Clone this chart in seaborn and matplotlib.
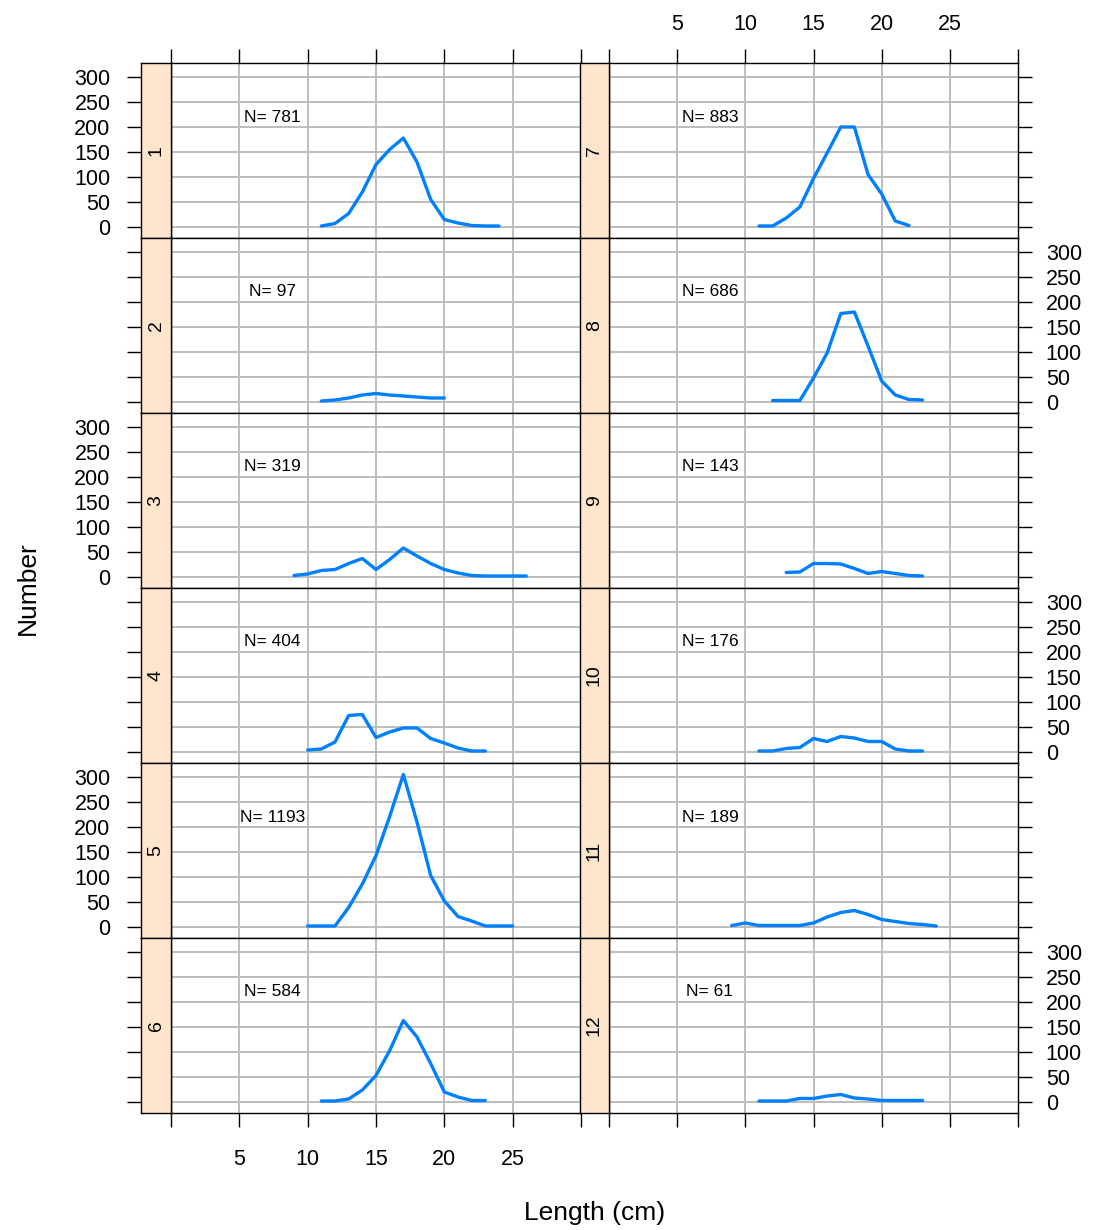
import numpy as np
import pandas as pd
import matplotlib
matplotlib.use("Agg")
import matplotlib.pyplot as plt
import seaborn as sns

# Monthly length-frequency counts (number of fish per 1 cm length class)
months = [1, 2, 3, 4, 5, 6, 7, 8, 9, 10, 11, 12]
start_len = [11, 11, 9, 10, 10, 11, 11, 12, 13, 11, 9, 11]
n_total = [781, 97, 319, 404, 1193, 584, 883, 686, 143, 176, 189, 61]

counts_01 = [2, 7, 27, 70, 125, 155, 178, 130, 55, 15, 8, 3, 2, 2]
counts_02 = [2, 4, 8, 14, 17, 14, 12, 10, 8, 8]
counts_03 = [3, 6, 13, 15, 27, 37, 15, 35, 58, 42, 27, 15, 8, 3, 2, 2, 2, 2]
counts_04 = [4, 6, 20, 73, 75, 29, 40, 48, 48, 27, 18, 8, 2, 2]
counts_05 = [2, 2, 2, 39, 86, 143, 221, 305, 210, 103, 52, 21, 12, 2, 2, 2]
counts_06 = [2, 2, 6, 24, 53, 103, 163, 130, 77, 20, 10, 3, 3]
counts_07 = [2, 2, 18, 40, 97, 148, 200, 200, 105, 66, 12, 3]
counts_08 = [3, 3, 3, 48, 98, 177, 180, 112, 42, 14, 5, 4]
counts_09 = [9, 10, 27, 27, 26, 17, 7, 11, 7, 3, 2]
counts_10 = [2, 2, 7, 9, 27, 21, 31, 28, 21, 21, 6, 2, 2]
counts_11 = [3, 8, 3, 3, 3, 3, 8, 20, 29, 33, 25, 15, 11, 7, 5, 2]
counts_12 = [2, 2, 2, 7, 7, 12, 15, 8, 6, 3, 3, 3, 3]

all_counts = [counts_01, counts_02, counts_03, counts_04, counts_05, counts_06,
              counts_07, counts_08, counts_09, counts_10, counts_11, counts_12]

x_ticks = [0, 5, 10, 15, 20, 25, 30]
x_labels = ["", "5", "10", "15", "20", "25", ""]
y_ticks = [0, 50, 100, 150, 200, 250, 300]

rows = []
for m, s, c in zip(months, start_len, all_counts):
    for i, v in enumerate(c):
        rows.append({"month": m, "length": s + i, "number": v})
df = pd.DataFrame(rows)

sns.set_style("white")
plt.rcParams["font.family"] = ["Liberation Sans", "DejaVu Sans"]
plt.rcParams["text.color"] = "black"
plt.rcParams["xtick.color"] = "black"
plt.rcParams["ytick.color"] = "black"
plt.rcParams["axes.labelcolor"] = "black"

W, H = 1095, 1230
fig = plt.figure(figsize=(W / 100, H / 100), dpi=100)


def box(x0, y0, x1, y1):
    return [x0 / W, 1 - y1 / H, (x1 - x0) / W, (y1 - y0) / H]


line_color = "#0080ff"
strip_color = "#ffe5cc"
grid_color = "#bdbdbd"
tick_fs = 15.5
xlim = (0, 30)
ylim = (-22, 328)

col_geom = [(141, 171, 581), (580, 609, 1018)]
top0, ph = 63, 175

for idx, m in enumerate(months):
    col = idx // 6
    row = idx % 6
    sx0, px0, px1 = col_geom[col]
    y0 = top0 + row * ph
    y1 = y0 + ph

    ax = fig.add_axes(box(px0, y0, px1, y1))
    sub = df[df["month"] == m]
    for gx in x_ticks[1:-1]:
        ax.axvline(gx, color=grid_color, lw=1.4, zorder=0)
    for gy in y_ticks:
        ax.axhline(gy, color=grid_color, lw=1.4, zorder=0)
    sns.lineplot(data=sub, x="length", y="number", ax=ax, color=line_color,
                 lw=2.4, estimator=None, zorder=3)
    ax.text(7.4, 220, f"N= {n_total[idx]}", ha="center", va="center",
            fontsize=12.5, color="black", zorder=4)
    ax.set_xlim(*xlim)
    ax.set_ylim(*ylim)
    ax.set_xlabel("")
    ax.set_ylabel("")
    for sp in ax.spines.values():
        sp.set_color("black")
        sp.set_linewidth(1.0)

    # x ticks: bottom row and top row only
    ax.set_xticks(x_ticks)
    ax.set_xticklabels(x_labels, fontsize=tick_fs)
    ax.tick_params(axis="x", direction="out", length=10, width=1.0,
                   pad=(10 if row == 0 else 16),
                   bottom=(row == 5), top=(row == 0),
                   labelbottom=(row == 5 and col == 0),
                   labeltop=(row == 0 and col == 1))

    # y ticks on right side for the right column
    ax.set_yticks(y_ticks)
    if col == 1:
        ax.tick_params(axis="y", direction="out", length=10, width=1.0, pad=10,
                       left=False, labelleft=False, right=True,
                       labelright=(row % 2 == 1), labelsize=tick_fs)
    else:
        ax.tick_params(axis="y", left=False, labelleft=False,
                       right=False, labelright=False)

    # strip with the month label
    sax = fig.add_axes(box(sx0, y0, px0, y1))
    sax.set_facecolor(strip_color)
    sax.set_xlim(0, 1)
    sax.set_ylim(*ylim)
    sax.set_xticks([])
    sax.text(0.5, (ylim[0] + ylim[1]) / 2, str(m), rotation=90, ha="center",
             va="center", fontsize=14)
    for sp in sax.spines.values():
        sp.set_color("black")
        sp.set_linewidth(1.0)
    sax.set_yticks(y_ticks)
    if col == 0:
        sax.tick_params(axis="y", direction="out", length=10, width=1.0, pad=12,
                        left=True, labelleft=(row % 2 == 0), labelsize=tick_fs)
    else:
        sax.tick_params(axis="y", left=False, labelleft=False)

fig.text(28 / W, 1 - 588 / H, "Number", rotation=90, ha="center", va="center",
         fontsize=19)
fig.text(595 / W, 1 - 1213 / H, "Length (cm)", ha="center", va="center",
         fontsize=19)

fig.savefig("out.png", dpi=100, facecolor="white")
